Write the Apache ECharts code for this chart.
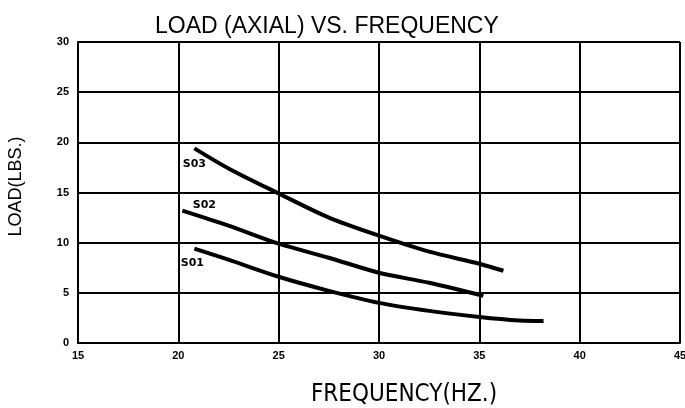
<!DOCTYPE html>
<html>
<head>
<meta charset="utf-8">
<script src="https://cdn.jsdelivr.net/npm/echarts@6/dist/echarts.min.js"></script>
<style>
  html, body { margin: 0; padding: 0; background: #fff; }
  #chart { width: 685px; height: 408px; }
</style>
</head>
<body>
<div id="chart"></div>
<script>
// frequency (Hz) / load (lbs)
const s03Freq = [20.8, 22.5, 25, 27.5, 30, 32.5, 35, 36.2];
const s03Load = [19.4, 17.4, 14.9, 12.5, 10.7, 9.1, 7.9, 7.2];
const s02Freq = [20.2, 22.5, 25, 27.5, 30, 32.5, 35.2];
const s02Load = [13.2, 11.7, 9.9, 8.5, 7.0, 6.0, 4.7];
const s01Freq = [20.8, 22.5, 25, 27.5, 30, 32.5, 35, 37, 38.2];
const s01Load = [9.4, 8.3, 6.6, 5.2, 4.0, 3.2, 2.6, 2.25, 2.2];
const seriesNames = ["S03", "S02", "S01"];

const chart = echarts.init(document.getElementById("chart"));

// first point carries the curve's name tag
function toData(xs, ys, offset) {
  return xs.map((x, i) =>
    i === 0
      ? {
          value: [x, ys[i]],
          label: {
            show: true,
            position: "inside",
            offset: offset,
            formatter: "{a}",
            color: "#000",
            fontFamily: "DejaVu Sans",
            fontWeight: "bold",
            fontSize: 11,
          },
        }
      : [x, ys[i]]
  );
}

function lineSeries(name, data) {
  return {
    name: name,
    type: "line",
    data: data,
    smooth: 0.3,
    showSymbol: true,
    symbol: "circle",
    symbolSize: 0,
    lineStyle: { color: "#000", width: 4 },
    itemStyle: { color: "#000" },
    z: 3,
  };
}

const option = {
  animation: false,
  backgroundColor: "#fff",
  title: {
    text: "LOAD (AXIAL) VS. FREQUENCY",
    left: 150,
    top: 10,
    textStyle: {
      fontFamily: "Liberation Sans",
      fontWeight: "normal",
      fontSize: 23,
      color: "#000",
    },
  },
  grid: { left: 78, right: 5, top: 42, bottom: 65, outerBoundsMode: "none", containLabel: false },
  xAxis: {
    type: "value",
    min: 15,
    max: 45,
    interval: 5,
    name: "FREQUENCY(HZ.)",
    nameLocation: "middle",
    nameGap: 40,
    nameTextStyle: {
      fontFamily: "Liberation Sans Narrow, DejaVu Sans Condensed, sans-serif",
      fontSize: 24,
      color: "#000",
      padding: [0, 0, 0, 50],
    },
    axisLine: { show: true, lineStyle: { color: "#000", width: 2 } },
    axisTick: { show: false },
    axisLabel: {
      color: "#000",
      fontFamily: "Liberation Sans",
      fontWeight: "bold",
      fontSize: 11,
      margin: 7,
    },
    splitLine: { show: true, lineStyle: { color: "#000", width: 2 } },
  },
  yAxis: {
    type: "value",
    min: 0,
    max: 30,
    interval: 5,
    name: "LOAD(LBS.)",
    nameLocation: "middle",
    nameGap: 40,
    nameTextStyle: {
      fontFamily: "Liberation Sans",
      fontSize: 18,
      color: "#000",
      padding: [0, 0, 13, 12],
    },
    axisLine: { show: true, lineStyle: { color: "#000", width: 2 } },
    axisTick: { show: false },
    axisLabel: {
      color: "#000",
      fontFamily: "Liberation Sans",
      fontWeight: "bold",
      fontSize: 11,
      margin: 9,
    },
    splitLine: { show: true, lineStyle: { color: "#000", width: 2 } },
  },
  series: [
    lineSeries(seriesNames[0], toData(s03Freq, s03Load, [0, 16])),
    lineSeries(seriesNames[1], toData(s02Freq, s02Load, [22, -5])),
    lineSeries(seriesNames[2], toData(s01Freq, s01Load, [-2, 14])),
  ],
};

chart.setOption(option);
</script>
</body>
</html>
